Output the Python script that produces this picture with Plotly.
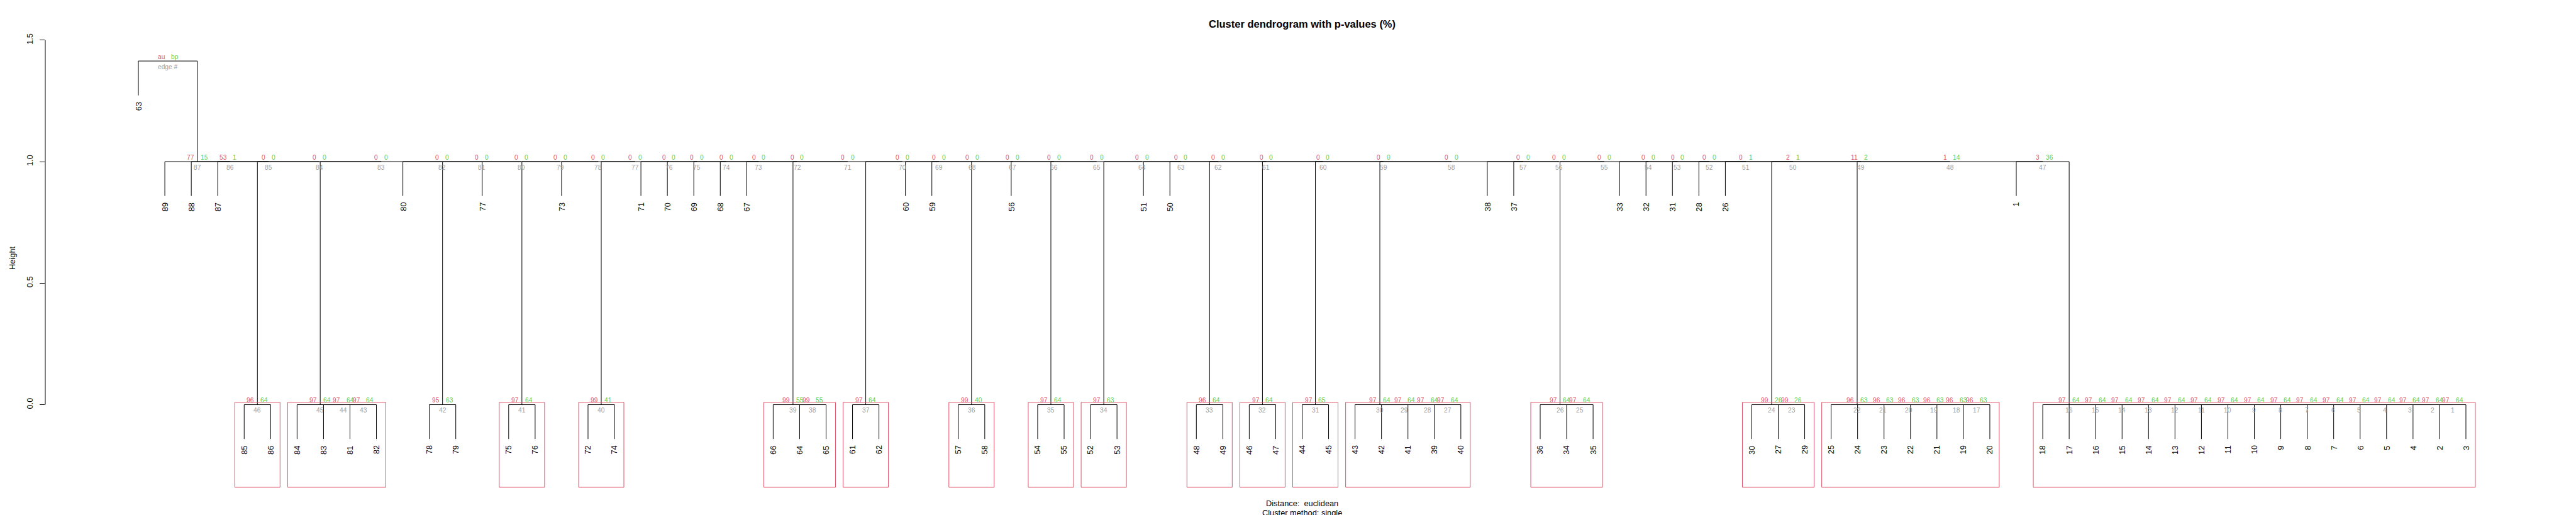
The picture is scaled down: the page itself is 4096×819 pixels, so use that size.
import plotly.graph_objects as go

# ---------------- data ----------------
leaf_order = [63, 89, 88, 87, 85, 86, 84, 83, 81, 82, 80, 78, 79, 77, 75, 76, 73, 72, 74,
              71, 70, 69, 68, 67, 66, 64, 65, 61, 62, 60, 59, 57, 58, 56, 54, 55, 52, 53,
              51, 50, 48, 49, 46, 47, 44, 45, 43, 42, 41, 39, 40, 38, 37, 36, 34, 35, 33,
              32, 31, 28, 26, 30, 27, 29, 25, 24, 23, 22, 21, 19, 20, 1, 18, 17, 16, 15,
              14, 13, 12, 11, 10, 9, 8, 7, 6, 5, 4, 2, 3]

# hclust-style merge matrix: negative = leaf id, positive = earlier edge number
merge_left = [-2, -4, -5, -6, -7, -8, -9, -10, -11, -12, -13, -14, -15, -16, -17, -18,
              -19, -21, -22, -23, -24, -25, -27, -30, -34, -36, -39, -41, -42, -43, -44,
              -46, -48, -52, -54, -57, -61, -64, -66, -72, -75, -78, -81, -83, -84, -85,
              -1, 22, 24, -26, -28, -31, -32, -33, 26, -37, -38, 30, 31, 32, 33, -50, -51,
              34, 35, -56, 36, -59, -60, 37, 39, -67, -68, -69, -70, -71, 40, -73, 41,
              -77, 42, -80, 45, 46, -87, -88, -89, -63]
merge_right = [-3, 1, 2, 3, 4, 5, 6, 7, 8, 9, 10, 11, 12, 13, 14, 15,
               -20, 17, 18, 19, 20, 21, -29, 23, -35, 25, -40, 27, 28, 29, -45,
               -47, -49, -53, -55, -58, -62, -65, 38, -74, -76, -79, -82, 43, 44, -86,
               16, 47, 48, 49, 50, 51, 52, 53, 54, 55, 56, 57, 58, 59, 60, 61, 62,
               63, 64, 65, 66, 67, 68, 69, 70, 71, 72, 73, 74, 75, 76, 77, 78,
               79, 80, 81, 82, 83, 84, 85, 86, 87]
merge_height = [0.0] * 46 + [1.0] * 41 + [1.414]

au_values = ([97] * 16 + [96] * 6 + [99, 99] + [97, 97] + [97] * 4 +
             [97, 97, 96, 97, 97, 99, 97, 99, 99, 99, 97, 95, 97, 97, 97, 96] +
             [3, 1, 11, 2, 0] + [0] * 34 + [53, 77])
bp_values = ([64] * 16 + [63] * 6 + [26, 26] + [64, 64] + [64] * 4 +
             [65, 64, 64, 63, 64, 40, 64, 55, 55, 41, 64, 63, 64, 64, 64, 64] +
             [36, 14, 2, 1, 1] + [0] * 34 + [1, 15])

title_text = "Cluster dendrogram with p-values (%)"
xlab_text = "Distance:  euclidean"
sub_text = "Cluster method: single"
ylab_text = "Height"
y_ticks = [0.0, 0.5, 1.0, 1.5]

# ---------------- style constants ----------------
W, H = 4096, 819
FONT = "Liberation Sans, Arial, sans-serif"
C_AU, C_BP, C_EDGE, C_RECT = "#DF536B", "#61D04F", "#9E9E9E", "#DF536B"
BASE = 12.8
PVF = 10.2

n = len(leaf_order)
xlo, xhi = 1 - 0.04 * (n - 1), n + 0.04 * (n - 1)
ylo, yhi = -0.4747, 1.6444
hang = 0.1 * (max(merge_height) - min(merge_height))

pos = {lab: i + 1 for i, lab in enumerate(leaf_order)}
node_x, node_h, members = {}, {}, {}


def cx(c):
    return pos[-c] if c < 0 else node_x[c]


def mem(c):
    return [pos[-c]] if c < 0 else members[c]


xs, ys = [], []
leaf_end = {}
for k in range(1, len(merge_left) + 1):
    a, b, h = merge_left[k - 1], merge_right[k - 1], merge_height[k - 1]
    node_x[k] = (cx(a) + cx(b)) / 2
    node_h[k] = h
    members[k] = mem(a) + mem(b)
    for c in (a, b):
        if c < 0:
            y0 = h - hang
            leaf_end[-c] = y0
        else:
            y0 = node_h[c]
        xs += [cx(c), cx(c), None]
        ys += [y0, h, None]
    xs += [cx(a), cx(b), None]
    ys += [h, h, None]

fig = go.Figure()
fig.add_trace(go.Scatter(x=xs, y=ys, mode="lines", line=dict(color="black", width=1),
                         hoverinfo="skip", showlegend=False))

annotations = []
# leaf labels
for lab in leaf_order:
    annotations.append(dict(x=pos[lab], y=leaf_end[lab], xref="x", yref="y", text=str(lab),
                            textangle=-90, showarrow=False, xanchor="center", yanchor="top",
                            yshift=-10.4, borderpad=0, borderwidth=0,
                            font=dict(family=FONT, size=BASE, color="black")))
# au / bp / edge labels
nE = len(merge_left)
for k in range(1, nE + 1):
    x, h = node_x[k], node_h[k]
    au = "au" if k == nE else str(au_values[k - 1])
    bp = "bp" if k == nE else str(bp_values[k - 1])
    ed = "edge #" if k == nE else str(k)
    annotations.append(dict(x=x, y=h, text=au, showarrow=False, xanchor="right", yanchor="middle",
                            xshift=-4.9, yshift=6.8, borderpad=0, borderwidth=0,
                            font=dict(family=FONT, size=PVF, color=C_AU)))
    annotations.append(dict(x=x, y=h, text=bp, showarrow=False, xanchor="left", yanchor="middle",
                            xshift=4.9, yshift=6.8, borderpad=0, borderwidth=0,
                            font=dict(family=FONT, size=PVF, color=C_BP)))
    annotations.append(dict(x=x, y=h, text=ed, showarrow=False, xanchor="center", yanchor="middle",
                            yshift=-9.3, borderpad=0, borderwidth=0,
                            font=dict(family=FONT, size=PVF, color=C_EDGE)))

# title, axis labels
annotations.append(dict(x=0.5, y=1 - 30 / H, xref="paper", yref="paper", text="<b>" + title_text + "</b>",
                        showarrow=False, xanchor="center", yanchor="middle",
                        font=dict(family=FONT, size=16.5, color="black")))
annotations.append(dict(x=0.5, y=1 - 792 / H, xref="paper", yref="paper", text=xlab_text.replace("  ", " \u00a0"),
                        showarrow=False, xanchor="center", yanchor="middle",
                        font=dict(family=FONT, size=BASE, color="black")))
annotations.append(dict(x=0.5, y=1 - 807.5 / H, xref="paper", yref="paper", text=sub_text,
                        showarrow=False, xanchor="center", yanchor="middle",
                        font=dict(family=FONT, size=BASE, color="black")))
annotations.append(dict(x=-(64 - 10.9) / (W - 64 - 35), y=1 - 402 / H, xref="paper", yref="paper",
                        text=ylab_text, textangle=-90, showarrow=False, xanchor="center", yanchor="middle",
                        font=dict(family=FONT, size=BASE, color="black")))

# pvrect boxes (au > 95, maximal only)
shapes = []
mx = (xhi - xlo) / n / 3
covered = set()
for k in range(nE - 1, 0, -1):
    if au_values[k - 1] > 95:
        mm = members[k]
        if not covered.intersection(mm):
            shapes.append(dict(type="rect", xref="x", yref="y", x0=min(mm) - mx, x1=max(mm) + mx,
                               y0=-0.340, y1=node_h[k] + 0.0095,
                               line=dict(color=C_RECT, width=1), fillcolor="rgba(0,0,0,0)"))
        covered.update(mm)
# y axis line
shapes.append(dict(type="line", xref="paper", yref="y", x0=0, x1=0, y0=min(y_ticks), y1=max(y_ticks),
                   line=dict(color="black", width=1)))

fig.update_layout(
    width=W, height=H,
    margin=dict(l=64, r=35, t=0, b=0, pad=0),
    paper_bgcolor="white", plot_bgcolor="white",
    xaxis=dict(range=[xlo, xhi], visible=False, showgrid=False, zeroline=False),
    yaxis=dict(range=[ylo, yhi], showgrid=False, zeroline=False, showline=False,
               tickvals=y_ticks, ticktext=["%.1f" % v for v in y_ticks],
               ticks="outside", ticklen=7.6, tickwidth=1, tickcolor="black",
               tickangle=-90, ticklabelstandoff=6,
               tickfont=dict(family=FONT, size=BASE, color="black")),
    annotations=annotations, shapes=shapes, showlegend=False,
)
fig.write_html("out.html")
